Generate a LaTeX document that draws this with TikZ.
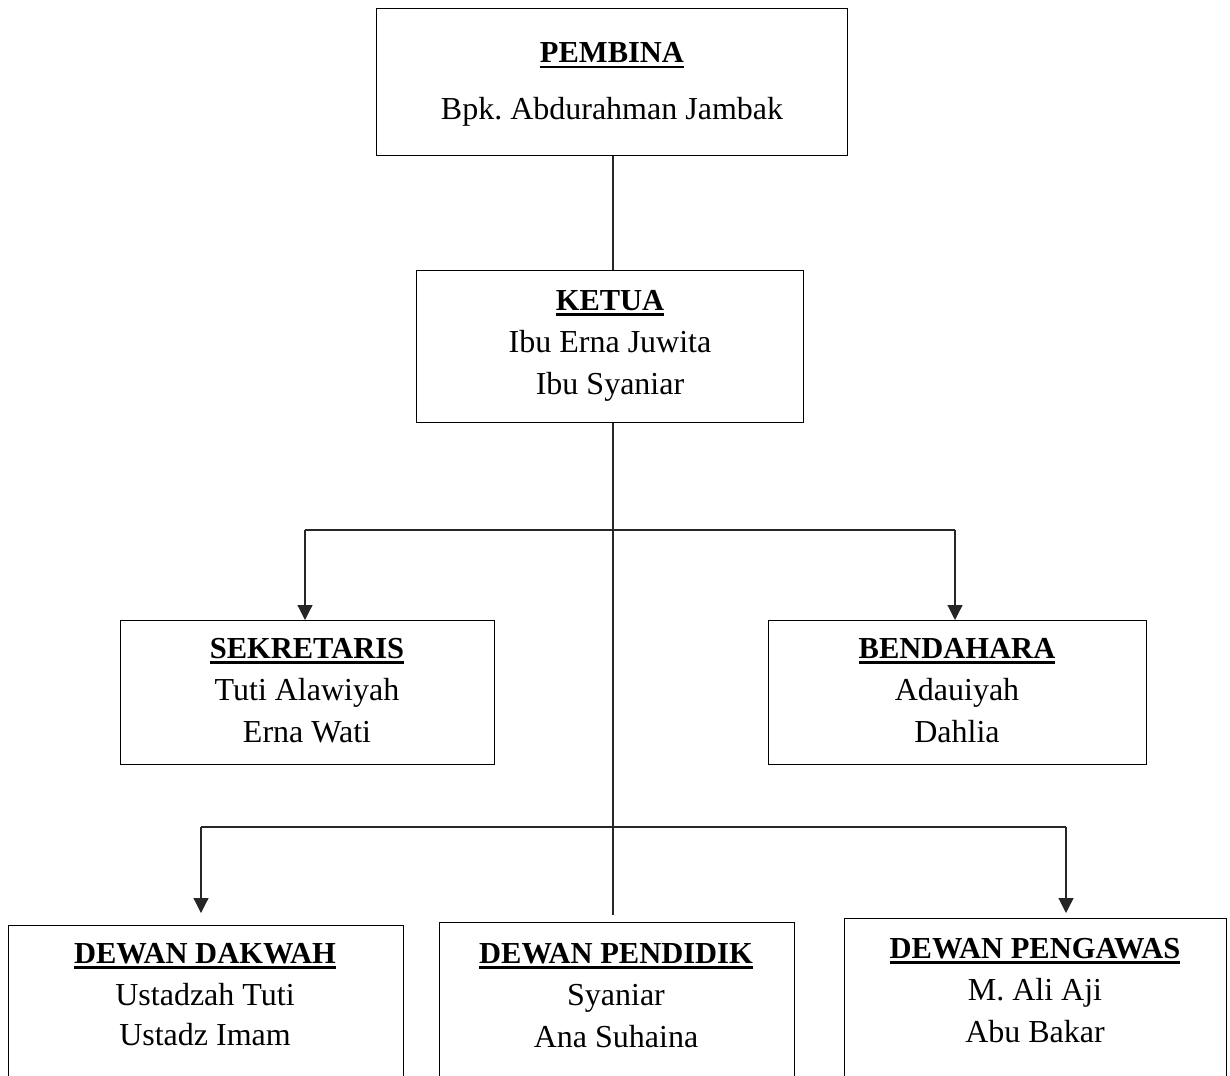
\documentclass[tikz,border=0pt]{standalone}
\usepackage{fontspec}
\setmainfont{Liberation Serif}
\usetikzlibrary{arrows.meta}
\frenchspacing
\newcommand\hd[1]{{\fontsize{30.5}{38}\selectfont\bfseries\setbox0\hbox{#1}\rlap{\rule[-5.5pt]{\wd0}{2.8pt}}\box0}}
\tikzset{
  box/.style={draw=black, line width=1.2pt, anchor=north west, inner sep=0pt, fill=none},
  txt/.style={anchor=base, inner sep=0pt, font=\fontsize{32}{38}\selectfont},
  con/.style={draw=black!85, line width=1.2pt},
  arr/.style={con, -{Triangle[length=15pt,width=15pt]}}
}
\begin{document}
\begin{tikzpicture}[x=1pt,y=-1pt]
\path[use as bounding box] (0,0) rectangle (1230,1075);
\clip (0,0) rectangle (1230,1075);
% boxes
\node[box, minimum width=471pt, minimum height=147pt] (pembina) at (376,8) {};
\node[box, minimum width=387pt, minimum height=152pt] (ketua) at (416,270) {};
\node[box, minimum width=374pt, minimum height=144pt] (sek) at (120,620) {};
\node[box, minimum width=378pt, minimum height=144pt] (bend) at (768,620) {};
\node[box, minimum width=395pt, minimum height=200pt] (dakwah) at (8,925) {};
\node[box, minimum width=355pt, minimum height=200pt] (pendidik) at (439,922) {};
\node[box, minimum width=382pt, minimum height=200pt] (pengawas) at (844,918) {};
% texts
\node[txt] (t1a) at (612,63) {\hd{PEMBINA}};
\node[txt] (t1b) at (612,120) {Bpk. Abdurahman Jambak};
\node[txt] (t2a) at (610,310) {\hd{KETUA}};
\node[txt] (t2b) at (610,352) {Ibu Erna Juwita};
\node[txt] (t2c) at (610,394) {Ibu Syaniar};
\node[txt] (t3a) at (307,658) {\hd{SEKRETARIS}};
\node[txt] (t3b) at (307,700) {Tuti Alawiyah};
\node[txt] (t3c) at (307,742) {Erna Wati};
\node[txt] (t4a) at (957,658) {\hd{BENDAHARA}};
\node[txt] (t4b) at (957,700) {Adauiyah};
\node[txt] (t4c) at (957,742) {Dahlia};
\node[txt] (t5a) at (205,963) {\hd{DEWAN DAKWAH}};
\node[txt] (t5b) at (205,1005) {Ustadzah Tuti};
\node[txt] (t5c) at (205,1045) {Ustadz Imam};
\node[txt] (t6a) at (616,963) {\hd{DEWAN PENDIDIK}};
\node[txt] (t6b) at (616,1005) {Syaniar};
\node[txt] (t6c) at (616,1047) {Ana Suhaina};
\node[txt] (t7a) at (1035,958) {\hd{DEWAN PENGAWAS}};
\node[txt] (t7b) at (1035,1000) {M. Ali Aji};
\node[txt] (t7c) at (1035,1042) {Abu Bakar};
% connector coordinates
\coordinate (spine) at (613,0);
\coordinate (spineEnd) at (613,915);
\coordinate (b1L) at (305,530);
\coordinate (b1R) at (955,530);
\coordinate (b2L) at (201,827);
\coordinate (b2R) at (1066,827);
% connectors
\draw[con] (pembina.south -| spine) -- (ketua.north -| spine);
\draw[con] (ketua.south -| spine) -- (spineEnd);
\draw[con] (b1L) -- (b1R);
\draw[con] (b2L) -- (b2R);
\draw[arr] (b1L) -- (b1L |- sek.north);
\draw[arr] (b1R) -- (b1R |- bend.north);
\draw[arr, shorten >=12pt] (b2L) -- (b2L |- dakwah.north);
\draw[arr, shorten >=5pt] (b2R) -- (b2R |- pengawas.north);
\end{tikzpicture}
\end{document}
